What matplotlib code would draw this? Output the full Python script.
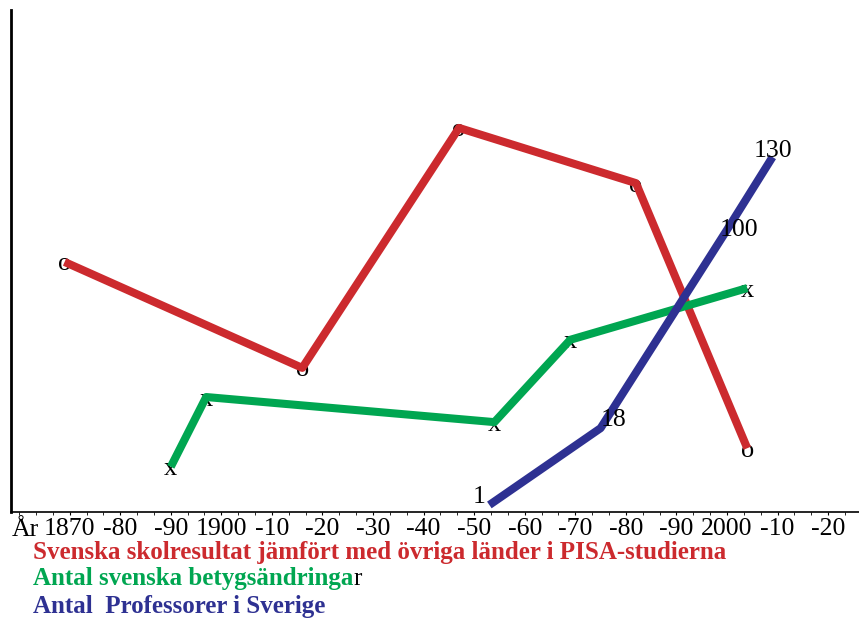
import matplotlib.pyplot as plt
from matplotlib.ticker import MultipleLocator

plt.rcParams["font.family"] = ["Liberation Serif", "DejaVu Serif"]

# x positions are years, y is an unscaled level (no y ticks in the original)
red_years = [1869, 1916, 1947, 1982, 2004]
red_vals = [49.8, 28.7, 76.5, 65.5, 12.7]

green_years = [1890, 1897, 1954, 1969, 2004]
green_vals = [9.0, 22.9, 17.9, 34.3, 44.6]

blue_years = [1953, 1975, 2000, 2009]
blue_vals = [1.4, 16.7, 56.2, 70.7]
blue_labels = ["1", "18", "100", "130"]

tick_years = list(range(1870, 2021, 10))
tick_labels = ["1870", "-80", "-90", "1900", "-10", "-20", "-30", "-40",
               "-50", "-60", "-70", "-80", "-90", "2000", "-10", "-20"]

RED = "#cc2a2e"
GREEN = "#00a651"
BLUE = "#2e3192"

fig = plt.figure(figsize=(8.59, 6.2), dpi=100)
ax = fig.add_axes([0.0128, 0.1742, 0.9872, 0.8098])
ax.set_xlim(1858.4, 2026.1)
ax.set_ylim(0, 100)

for side in ("top", "right"):
    ax.spines[side].set_visible(False)
ax.spines["left"].set_linewidth(2)
ax.spines["bottom"].set_linewidth(1.2)
ax.set_yticks([])

ax.set_xticks(tick_years)
ax.set_xticklabels(tick_labels, fontsize=18.5)
ax.xaxis.set_minor_locator(MultipleLocator(10 / 3))
ax.tick_params(axis="x", which="major", length=2, pad=2)
ax.tick_params(axis="x", which="minor", length=2)
# "År" sits in front of the first tick label
ax.annotate("År", xy=(1870, 0), xycoords=("data", "axes fraction"),
            xytext=(-31, -7), textcoords="offset pixels",
            ha="right", va="top", fontsize=18.5)

ax.plot(red_years, red_vals, color=RED, lw=5.8, solid_capstyle="butt", zorder=3)
ax.plot(green_years, green_vals, color=GREEN, lw=5.8, solid_capstyle="butt", zorder=3)
ax.plot(blue_years, blue_vals, color=BLUE, lw=5.8, solid_capstyle="butt", zorder=4)

# hand-made "markers": letters at the vertices, under the lines
for x, y in zip(red_years, red_vals):
    ax.text(x, y, "o", ha="center", va="center_baseline", fontsize=19, zorder=2)
for x, y in zip(green_years, green_vals):
    ax.text(x, y, "x", ha="center", va="center_baseline", fontsize=19, zorder=2)

blue_offsets = [(-4, 8, "right"), (0, 8, "left"), (12, 0, "center"), (0, 6, "center")]
for x, y, lab, (dx, dy, ha) in zip(blue_years, blue_vals, blue_labels, blue_offsets):
    ax.annotate(lab, xy=(x, y), xytext=(dx, dy), textcoords="offset pixels",
                ha=ha, va="center", fontsize=18.5, zorder=5)

# legend lines under the axis
fig.text(0.038, 1 - 553 / 620, "Svenska skolresultat jämfört med övriga länder i PISA-studierna",
         color=RED, fontsize=18, fontweight="bold", va="center")
t = fig.text(0.038, 1 - 579 / 620, "Antal svenska betygsändringa",
             color=GREEN, fontsize=18, fontweight="bold", va="center")
ax.annotate("r", xy=(1, 0.5), xycoords=t, ha="left", va="center",
            fontsize=18, color="black", annotation_clip=False)
fig.text(0.038, 1 - 606 / 620, "Antal  Professorer i Sverige",
         color=BLUE, fontsize=18, fontweight="bold", va="center")

fig.savefig("out.png", dpi=100)
